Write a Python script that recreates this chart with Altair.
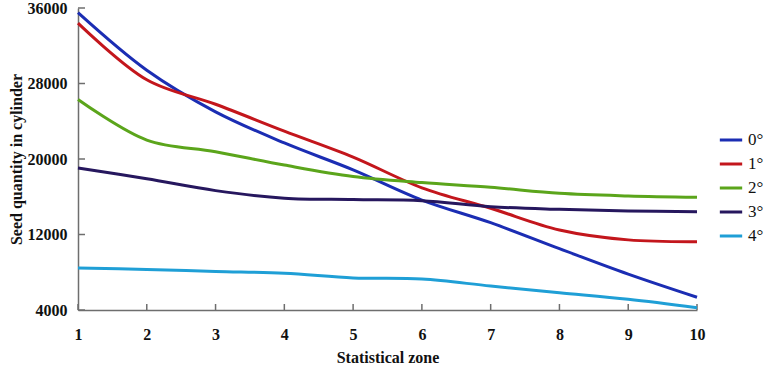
import altair as alt
import pandas as pd

# Seed counts per statistical zone for each inclination angle
zones = [1, 2, 3, 4, 5, 6, 7, 8, 9, 10]
angle_labels = ["0°", "1°", "2°", "3°", "4°"]
seed_0 = [35500, 29400, 25000, 21700, 18850, 15650, 13250, 10500, 7800, 5350]
seed_1 = [34400, 28400, 25800, 22950, 20200, 16950, 14780, 12480, 11430, 11240]
seed_2 = [26300, 22000, 20770, 19360, 18150, 17500, 17000, 16360, 16080, 15940]
seed_3 = [19050, 17900, 16650, 15850, 15700, 15580, 14950, 14670, 14490, 14420]
seed_4 = [8450, 8300, 8080, 7900, 7400, 7280, 6540, 5830, 5130, 4240]
y_ticks = [4000, 12000, 20000, 28000, 36000]
colors = ["#1b2db3", "#c3161c", "#5ba51b", "#26175e", "#1f9fd6"]

series = [seed_0, seed_1, seed_2, seed_3, seed_4]
rows = []
for label, vals in zip(angle_labels, series):
    for z, v in zip(zones, vals):
        rows.append({"zone": z, "seeds": v, "angle": label})
df = pd.DataFrame(rows)

W, H = 619, 302
FONT = "'Liberation Serif', 'Times New Roman', 'DejaVu Serif', serif"

x_scale = alt.Scale(domain=[1, 10], nice=False, zero=False)
y_scale = alt.Scale(domain=[4000, 36000], nice=False, zero=False)

lines = alt.Chart(df).mark_line(
    interpolate="catmull-rom", strokeWidth=3
).encode(
    x=alt.X("zone:Q", scale=x_scale,
            axis=alt.Axis(title="Statistical zone", values=zones, format="d",
                          ticks=False, grid=False, labelFlush=False,
                          labelPadding=16, titlePadding=7)),
    y=alt.Y("seeds:Q", scale=y_scale,
            axis=alt.Axis(title="Seed quantity in cylinder", values=y_ticks,
                          format="d", ticks=False, grid=False, labelFlush=False,
                          labelPadding=11, titlePadding=3)),
    color=alt.Color("angle:N", sort=angle_labels,
                    scale=alt.Scale(domain=angle_labels, range=colors),
                    legend=alt.Legend(title=None, orient="none",
                                      legendX=640, legendY=119,
                                      symbolType="stroke", symbolSize=500,
                                      symbolStrokeWidth=3, labelFontSize=17,
                                      labelFont=FONT, labelColor="#111",
                                      rowPadding=3, labelOffset=4)),
)

# inward tick marks on both axes
y_tick_df = pd.DataFrame({"v": y_ticks})
x_tick_df = pd.DataFrame({"z": zones})
y_tick_marks = alt.Chart(y_tick_df).mark_rule(color="#6e6e6e", strokeWidth=1.5).encode(
    y=alt.Y("v:Q", scale=y_scale), x=alt.value(0), x2=alt.value(7)
)
x_tick_marks = alt.Chart(x_tick_df).mark_rule(color="#6e6e6e", strokeWidth=1.5).encode(
    x=alt.X("z:Q", scale=x_scale), y=alt.value(H - 6), y2=alt.value(H)
)

chart = alt.layer(y_tick_marks, x_tick_marks, lines).properties(
    width=W, height=H,
    autosize=alt.AutoSizeParams(type="none"),
    padding={"left": 78, "top": 8, "right": 78, "bottom": 55},
).configure_view(stroke=None).configure_axis(
    domainColor="#6e6e6e", domainWidth=1.5,
    labelFont=FONT, labelFontSize=16, labelFontWeight="bold", labelColor="#111",
    titleFont=FONT, titleFontSize=16, titleFontWeight="bold", titleColor="#111",
).configure_legend(labelFont=FONT)

chart.save("out.html", embed_options={"renderer": "svg", "actions": False})
